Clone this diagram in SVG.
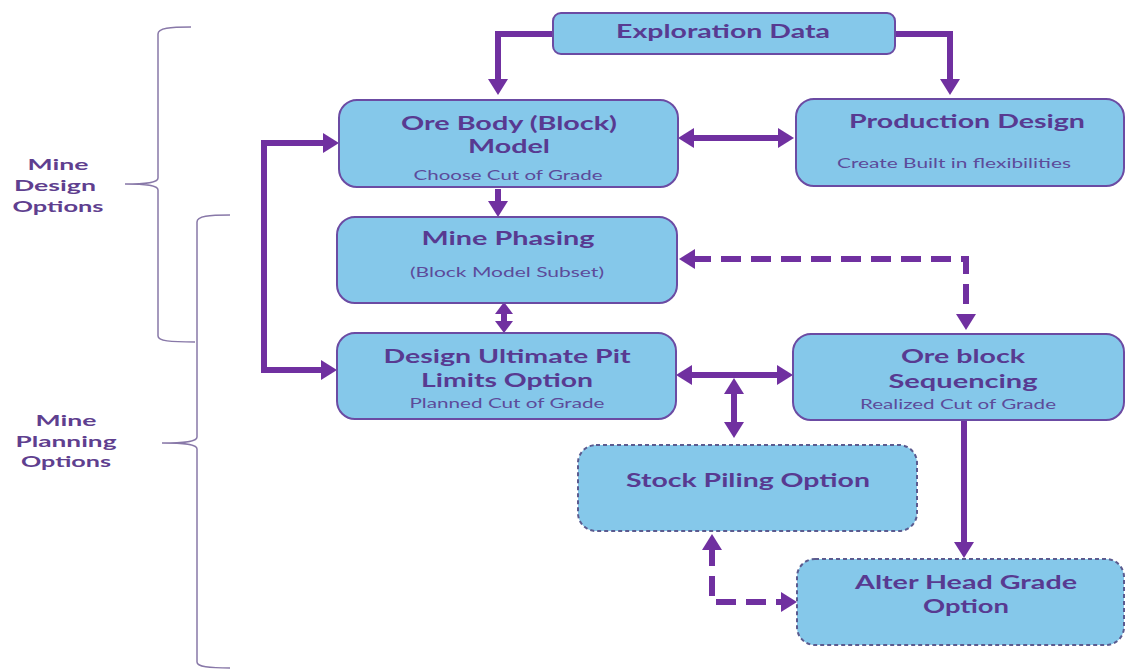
<svg xmlns="http://www.w3.org/2000/svg" width="1126" height="671" viewBox="0 0 1126 671">
<style>
.box{fill:#85c8ea;stroke:#6b4ba3;stroke-width:2}
.dbox{fill:#85c8ea;stroke:#5b5b8f;stroke-width:2;stroke-dasharray:4 3}
.t{font-family:Lato,"Liberation Sans",sans-serif;font-weight:bold;font-size:19px;fill:#583a91;text-anchor:middle}
.s{font-family:Lato,"Liberation Sans",sans-serif;font-size:14px;fill:#5c4b9a;text-anchor:middle}
.l{font-family:Lato,"Liberation Sans",sans-serif;font-weight:bold;font-size:16px;fill:#5f3f8f;text-anchor:middle}
.c{fill:none;stroke:#7030a0;stroke-width:6}
.d{stroke-dasharray:20 10}
.br{fill:none;stroke:#8878a8;stroke-width:1.5}
</style>
<defs>
<marker id="ah" viewBox="0 0 16 20" refX="4" refY="10" markerWidth="16" markerHeight="20" markerUnits="userSpaceOnUse" orient="auto-start-reverse">
<path d="M0,0 L16,10 L0,20 z" fill="#7030a0"/>
</marker>
<marker id="ahs" viewBox="0 0 12 18" refX="2" refY="9" markerWidth="12" markerHeight="18" markerUnits="userSpaceOnUse" orient="auto-start-reverse">
<path d="M0,0 L12,9 L0,18 z" fill="#7030a0"/>
</marker>
</defs>
<rect width="1126" height="671" fill="#ffffff"/>

<g id="brace-design">
<path class="br" d="M191,27 C170,27 158,28 158,34 L158,178 C158,182 150,184 125,184 C150,184 158,186 158,190 L158,336 C158,341 170,342 195,342"/>
<text class="l"><tspan x="58" y="170" textLength="61" lengthAdjust="spacingAndGlyphs">Mine</tspan><tspan x="55" y="191" textLength="82" lengthAdjust="spacingAndGlyphs">Design</tspan><tspan x="58" y="212" textLength="91" lengthAdjust="spacingAndGlyphs">Options</tspan></text>
</g>
<g id="brace-planning">
<path class="br" d="M230,215 C209,215 197,216 197,222 L197,437 C197,441 189,443 162,443 C189,443 197,445 197,449 L197,662 C197,667 209,668 230,668"/>
<text class="l"><tspan x="66" y="426" textLength="61" lengthAdjust="spacingAndGlyphs">Mine</tspan><tspan x="66" y="447" textLength="101" lengthAdjust="spacingAndGlyphs">Planning</tspan><tspan x="66" y="467" textLength="90" lengthAdjust="spacingAndGlyphs">Options</tspan></text>
</g>

<g id="connectors">
<path class="c" d="M553,34 H498 V83" marker-end="url(#ah)"/>
<path class="c" d="M895,34 H950 V83" marker-end="url(#ah)"/>
<path class="c" d="M690,138 H782" marker-start="url(#ah)" marker-end="url(#ah)"/>
<path class="c" d="M498,189 V205" marker-end="url(#ah)"/>
<path class="c" d="M327,143 H264 V370 H325" marker-start="url(#ah)" marker-end="url(#ah)"/>
<path class="c" d="M504,312 V323" marker-start="url(#ahs)" marker-end="url(#ahs)"/>
<path class="c d" d="M691,259 H966 V318" marker-start="url(#ah)" marker-end="url(#ah)"/>
<path class="c" d="M688,375 H781" marker-start="url(#ah)" marker-end="url(#ah)"/>
<path class="c" d="M734,390 V426" marker-start="url(#ah)" marker-end="url(#ah)"/>
<path class="c" d="M964,421 V546" marker-end="url(#ah)"/>
<path class="c d" d="M712,546 V602 H785" marker-start="url(#ah)" marker-end="url(#ah)"/>
</g>

<g id="exploration">
<rect class="box" x="553" y="13" width="342" height="41" rx="8"/>
<text class="t" x="723" y="38" textLength="214" lengthAdjust="spacingAndGlyphs">Exploration Data</text>
</g>
<g id="orebody">
<rect class="box" x="339" y="100" width="339" height="87" rx="18"/>
<text class="t" x="509" y="130" textLength="216" lengthAdjust="spacingAndGlyphs">Ore Body (Block)</text>
<text class="t" x="509" y="153" textLength="82" lengthAdjust="spacingAndGlyphs">Model</text>
<text class="s" x="508" y="180" textLength="189" lengthAdjust="spacingAndGlyphs">Choose Cut of Grade</text>
</g>
<g id="production">
<rect class="box" x="796" y="99" width="328" height="87" rx="18"/>
<text class="t" x="967" y="128" textLength="236" lengthAdjust="spacingAndGlyphs">Production Design</text>
<text class="s" x="954" y="168" textLength="234" lengthAdjust="spacingAndGlyphs">Create Built in flexibilities</text>
</g>
<g id="phasing">
<rect class="box" x="337" y="217" width="340" height="86" rx="18"/>
<text class="t" x="508" y="245" textLength="173" lengthAdjust="spacingAndGlyphs">Mine Phasing</text>
<text class="s" x="507" y="277" textLength="194" lengthAdjust="spacingAndGlyphs">(Block Model Subset)</text>
</g>
<g id="ultimate">
<rect class="box" x="337" y="333" width="339" height="86" rx="18"/>
<text class="t" x="507" y="363" textLength="247" lengthAdjust="spacingAndGlyphs">Design Ultimate Pit</text>
<text class="t" x="507" y="387" textLength="172" lengthAdjust="spacingAndGlyphs">Limits Option</text>
<text class="s" x="507" y="408" textLength="195" lengthAdjust="spacingAndGlyphs">Planned Cut of Grade</text>
</g>
<g id="sequencing">
<rect class="box" x="793" y="334" width="331" height="86" rx="18"/>
<text class="t" x="963" y="363" textLength="124" lengthAdjust="spacingAndGlyphs">Ore block</text>
<text class="t" x="963" y="388" textLength="149" lengthAdjust="spacingAndGlyphs">Sequencing</text>
<text class="s" x="958" y="409" textLength="196" lengthAdjust="spacingAndGlyphs">Realized Cut of Grade</text>
</g>
<g id="stockpiling">
<rect class="dbox" x="578" y="445" width="339" height="86" rx="18"/>
<text class="t" x="748" y="487" textLength="244" lengthAdjust="spacingAndGlyphs">Stock Piling Option</text>
</g>
<g id="alterhead">
<rect class="dbox" x="797" y="559" width="327" height="86" rx="18"/>
<text class="t" x="966" y="589" textLength="222" lengthAdjust="spacingAndGlyphs">Alter Head Grade</text>
<text class="t" x="966" y="613" textLength="86" lengthAdjust="spacingAndGlyphs">Option</text>
</g>
</svg>
